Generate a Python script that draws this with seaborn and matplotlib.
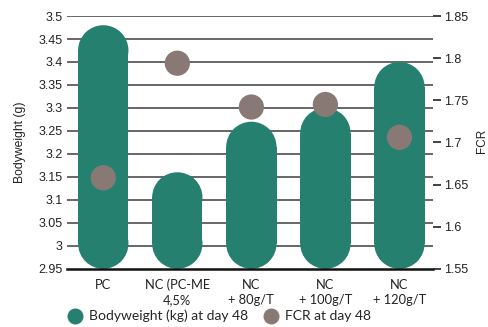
import matplotlib
matplotlib.use("Agg")
import matplotlib.pyplot as plt
from matplotlib.patches import Rectangle, Ellipse
from matplotlib.lines import Line2D
import seaborn as sns
import pandas as pd

categories = ["PC", "NC (PC-ME\n4,5%", "NC\n+ 80g/T", "NC\n+ 100g/T", "NC\n+ 120g/T"]
bodyweight = [3.48, 3.16, 3.27, 3.30, 3.40]
fcr = [1.658, 1.794, 1.742, 1.745, 1.706]
left_ticks = [2.95, 3.0, 3.05, 3.1, 3.15, 3.2, 3.25, 3.3, 3.35, 3.4, 3.45, 3.5]
left_labels = ["2.95", "3", "3.05", "3.1", "3.15", "3.2", "3.25", "3.3", "3.35", "3.4", "3.45", "3.5"]
right_ticks = [1.55, 1.6, 1.65, 1.7, 1.75, 1.8, 1.85]
right_labels = ["1.55", "1.6", "1.65", "1.7", "1.75", "1.8", "1.85"]

GREEN = "#26806F"
TAUPE = "#897974"
GRID = "#5a5a5a"
BASE = 2.95
XLIM = (-0.49, 4.45)
YLIM = (2.95, 3.5)

sns.set_style("white")
plt.rcParams["font.family"] = ["Liberation Sans", "DejaVu Sans"]
label_font = ["Lato", "DejaVu Sans"]

df = pd.DataFrame({"group": categories, "bw": bodyweight, "fcr": fcr})

fig = plt.figure(figsize=(4.89, 3.27), dpi=100)
ax_pos = [0.137, 0.178, 0.748, 0.773]
ax = fig.add_axes(ax_pos)

for t in left_ticks[1:]:
    ax.axhline(t, color=GRID, lw=1.3, zorder=0)

sns.barplot(data=df, x="group", y="bw", color=GREEN, width=0.68, ax=ax,
            saturation=1, zorder=2)
ax.set_xlim(*XLIM)
ax.set_ylim(*YLIM)

# y-data units per x-data unit for equal on-screen lengths
px_x = ax_pos[2] * 489 / (XLIM[1] - XLIM[0])
px_y = ax_pos[3] * 327 / (YLIM[1] - YLIM[0])
aspect = px_x / px_y

# turn each bar into a capsule running from the baseline up to its value
bars = list(ax.patches)
for p in bars:
    x, w, top = p.get_x(), p.get_width(), p.get_height()
    p.remove()
    cx = x + w / 2
    ry = (w / 2) * aspect
    ax.add_patch(Rectangle((x, BASE + ry), w, (top - ry) - (BASE + ry),
                           facecolor=GREEN, edgecolor="none", zorder=2,
                           clip_on=False))
    for cy in (top - ry, BASE + ry):
        ax.add_patch(Ellipse((cx, cy), w, 2 * ry, facecolor=GREEN,
                             edgecolor="none", zorder=2, clip_on=False))

ax.set_yticks(left_ticks)
ax.set_yticklabels(left_labels)
ax.tick_params(axis="y", length=0, pad=3, labelsize=9, colors="#222222")
ax.tick_params(axis="x", length=0, pad=7)
ax.set_xticks(range(len(categories)))
ax.set_xticklabels(categories, family=label_font, fontsize=9.3,
                   color="#222222", linespacing=1.3)
ax.set_xlabel("")
ax.set_ylabel("Bodyweight (g)", fontsize=8.7, color="#222222", labelpad=9)
for s in ["left", "right", "top"]:
    ax.spines[s].set_visible(False)
ax.spines["bottom"].set_color("#111111")
ax.spines["bottom"].set_linewidth(1.8)
ax.spines["bottom"].set_zorder(3)

ax2 = ax.twinx()
ax2.set_ylim(1.55, 1.85)
sns.scatterplot(data=df, x="group", y="fcr", color=TAUPE, s=330,
                edgecolor="none", ax=ax2, zorder=4)
ax2.set_xlim(*XLIM)
ax2.set_yticks(right_ticks)
ax2.set_yticklabels(right_labels)
ax2.tick_params(axis="y", length=6, width=1.2, pad=2, labelsize=9,
                colors="#222222")
ax2.set_ylabel("")
for s in ["left", "right", "top", "bottom"]:
    ax2.spines[s].set_visible(False)
fig.text(0.998, 0.57, "FCR", rotation=90, ha="right", va="center",
         fontsize=8.5, color="#222222")

handles = [
    Line2D([], [], marker="o", ls="none", markersize=10.5, color=GREEN),
    Line2D([], [], marker="o", ls="none", markersize=10.5, color=TAUPE),
]
fig.legend(handles, ["Bodyweight (kg) at day 48", "FCR at day 48"],
           loc="center left", bbox_to_anchor=(0.11, 0.033), ncol=2,
           frameon=False, handletextpad=0.45, columnspacing=1.0,
           handlelength=1.2, prop={"family": label_font, "size": 10})

fig.savefig("out.png", dpi=100)
